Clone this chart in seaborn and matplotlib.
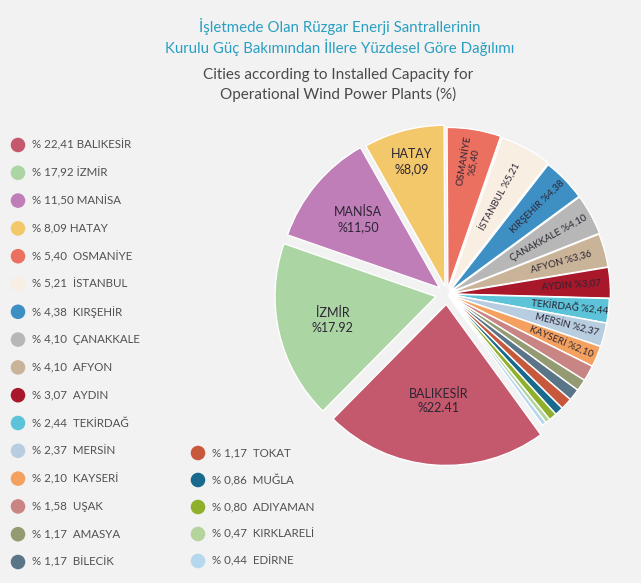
import matplotlib
matplotlib.use("Agg")
import matplotlib.pyplot as plt
import seaborn as sns
import pandas as pd
import numpy as np

# ---------------- data ----------------
cities = ["BALIKESİR", "İZMİR", "MANİSA", "HATAY", "OSMANİYE", "İSTANBUL",
          "KIRŞEHİR", "ÇANAKKALE", "AFYON", "AYDIN", "TEKİRDAĞ", "MERSİN",
          "KAYSERİ", "UŞAK", "AMASYA", "BİLECİK", "TOKAT", "MUĞLA",
          "ADIYAMAN", "KIRKLARELİ", "EDİRNE"]
shares = [22.41, 17.92, 11.50, 8.09, 5.40, 5.21, 4.38, 4.10, 3.36, 3.07,
          2.44, 2.37, 2.10, 1.58, 1.17, 1.17, 1.17, 0.86, 0.80, 0.47, 0.44]
legend_labels = ["% 22,41 BALIKESİR", "% 17,92 İZMİR", "% 11,50 MANİSA",
                 "% 8,09 HATAY", "% 5,40  OSMANİYE", "% 5,21  İSTANBUL",
                 "% 4,38  KIRŞEHİR", "% 4,10  ÇANAKKALE", "% 4,10  AFYON",
                 "% 3,07  AYDIN", "% 2,44  TEKİRDAĞ", "% 2,37  MERSİN",
                 "% 2,10  KAYSERİ", "% 1,58  UŞAK", "% 1,17  AMASYA",
                 "% 1,17  BİLECİK", "% 1,17  TOKAT", "% 0,86  MUĞLA",
                 "% 0,80  ADIYAMAN", "% 0,47  KIRKLARELİ", "% 0,44  EDİRNE"]
pie_labels = ["BALIKESİR\n%22.41", "İZMİR\n%17.92", "MANİSA\n%11,50",
              "HATAY\n%8,09", "OSMANİYE\n%5,40", "İSTANBUL %5,21",
              "KIRŞEHİR %4,38", "ÇANAKKALE %4,10", "AFYON %3,36",
              "AYDIN %3,07", "TEKİRDAĞ %2,44", "MERSİN %2,37",
              "KAYSERİ %2,10", "", "", "", "", "", "", "", ""]
colors = ["#c4586c", "#acd5a4", "#c07eb8", "#f3c86a", "#ec7060", "#f8eee2",
          "#3d8fc4", "#b7b7b7", "#c9b49a", "#a8172a", "#5cc3d8", "#b8cde0",
          "#f4a15f", "#c98484", "#949a72", "#5a7488", "#c8583c", "#1a6a8e",
          "#8fb02a", "#b5d39c", "#b6d8ef"]

title_tr = "İşletmede Olan Rüzgar Enerji Santrallerinin\nKurulu Güç Bakımından İllere Yüzdesel Göre Dağılımı"
title_en = "Cities according to Installed Capacity for\nOperational Wind Power Plants (%)"

# ---------------- style ----------------
sns.set_theme(style="white")
plt.rcParams["font.family"] = ["Lato", "DejaVu Sans"]
BG = "#f2f2f2"

W, H = 641, 583
fig = plt.figure(figsize=(W / 100, H / 100), dpi=100, facecolor=BG)

# ---------------- pie ----------------
cx, cy, R = 447, 294, 161
half = 1.15
side = 2 * half * R
ax = fig.add_axes([(cx - side / 2) / W, (H - cy - side / 2) / H, side / W, side / H])
ax.set_facecolor(BG)
explode = [0.065, 0.07, 0.06, 0.05, 0.035, 0.03, 0.02, 0.02, 0.015, 0.015] + [0.008] * 11
wedges, _ = ax.pie(shares, colors=colors, startangle=-54, counterclock=False,
                   explode=explode, radius=1.0,
                   wedgeprops=dict(edgecolor="white", linewidth=1.0))
ax.set_xlim(-half, half)
ax.set_ylim(-half, half)
ax.set_aspect("equal")
ax.axis("off")

txt_col = "#2b2533"
big_r = {0: 0.60, 1: 0.66, 2: 0.66, 3: 0.80}
small_r = {4: 0.80, 5: 0.66, 6: 0.76, 7: 0.70, 8: 0.72}
for i, (w, lab) in enumerate(zip(wedges, pie_labels)):
    if not lab:
        continue
    mid = np.deg2rad((w.theta1 + w.theta2) / 2)
    ox, oy = w.center
    if i < 4:
        r = big_r[i]
        ax.text(ox + r * np.cos(mid), oy + r * np.sin(mid), lab, ha="center",
                va="center", fontsize=9, color=txt_col, linespacing=1.25)
    else:
        r = small_r.get(i, 0.76)
        ax.text(ox + r * np.cos(mid), oy + r * np.sin(mid), lab, ha="center",
                va="center", fontsize=7, color=txt_col,
                rotation=np.rad2deg(mid), rotation_mode="anchor",
                linespacing=1.1)

# ---------------- titles ----------------
fig.text(340 / W, 1 - 37 / H, title_tr, ha="center", va="center", fontsize=10.8,
         color="#2a9fc2", linespacing=1.3)
fig.text(338 / W, 1 - 85 / H, title_en, ha="center", va="center", fontsize=11,
         color="#4a4a4a", linespacing=1.35)

# ---------------- legend ----------------
lax = fig.add_axes([0, 0, 1, 1])
lax.set_xlim(0, W)
lax.set_ylim(H, 0)
lax.axis("off")
n_left = 16
step = 27.8
rows = []
for i, lab in enumerate(legend_labels):
    if i < n_left:
        x, y = 18, 145 + i * step
    else:
        x, y = 198, 453 + (i - n_left) * 27.0
    rows.append(dict(x=x, y=y, city=cities[i], label=lab))
ldf = pd.DataFrame(rows)
sns.scatterplot(data=ldf, x="x", y="y", hue="city", palette=colors,
                hue_order=cities, s=110, edgecolor="none", legend=False, ax=lax)
for _, r in ldf.iterrows():
    lax.text(r.x + 14, r.y, r.label, ha="left", va="center", fontsize=8.3,
             color="#505050")

fig.savefig("out.png", dpi=100, facecolor=BG)
